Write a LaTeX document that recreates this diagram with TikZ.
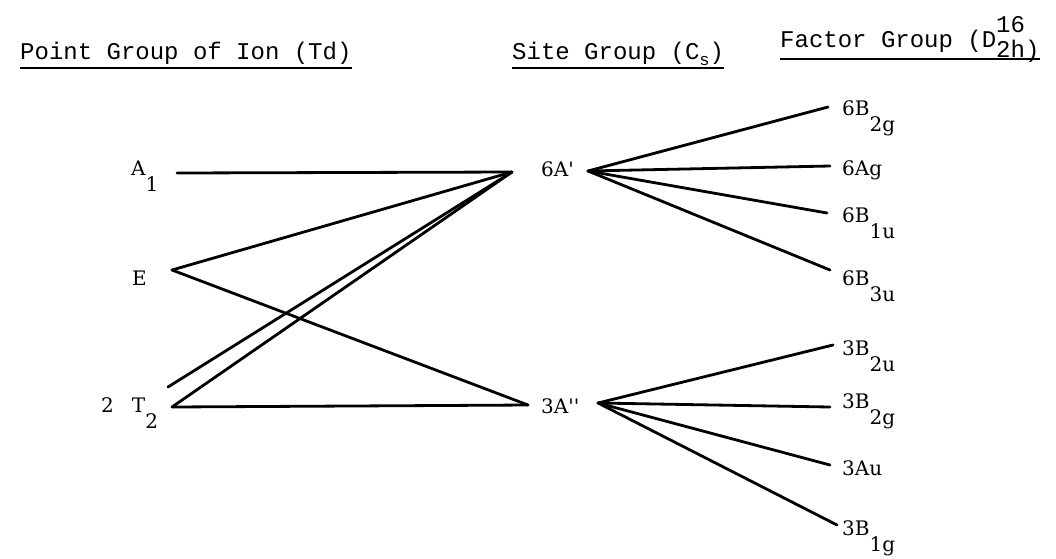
\documentclass[tikz,border=0pt]{standalone}
\usepackage{fontspec}
\setmainfont{DejaVu Serif}
\newfontfamily\typefont{Liberation Mono}
\usetikzlibrary{calc}

% lowered subscript, typewriter fashion
\newcommand{\lo}[1]{\raisebox{-16pt}{#1}}

\begin{document}
\begin{tikzpicture}[x=1pt,y=-1pt,
  link/.style={line width=2.8pt,line cap=round},
  rule/.style={line width=1.6pt},
  lbl/.style={anchor=base west,inner sep=0pt,font=\fontsize{20}{24}\selectfont},
  head/.style={anchor=base west,inner sep=0pt,font=\typefont\fontsize{24}{28}\selectfont}]

\useasboundingbox (0,0) rectangle (1056,558);

% Headings with their rules
\node[head] (hpoint) at (20,59) {Point Group of Ion (Td)};
\node[head] (hsite) at (512,59) {Site Group (C\raisebox{-6pt}{\fontsize{17}{18}\selectfont s})};
\node[head] (hfactor) at (780,47) {Factor Group (D\rlap{\raisebox{15pt}{16}}\raisebox{-10pt}{2h)}};

\draw[rule] ($(hpoint.base west)+(0,9)$) -- ($(hpoint.base east)+(0,9)$);
\draw[rule] ($(hsite.base west)+(0,9)$) -- ($(hsite.base east)+(0,9)$);
\draw[rule] ($(hfactor.base west)+(0,12)$) -- ($(hfactor.base east)+(0,12)$);

% Point group of the ion
\node[lbl] (A1) at (131,175) {A\lo{1}};
\node[lbl] (E) at (132,285) {E};
\node[lbl] (T2) at (101,412) {2\hspace{18pt}T\lo{2}};

\coordinate (a1) at (177,173);
\coordinate (e) at (172,270);
\coordinate (t2) at (172,407);
\coordinate (t2b) at (168,387);

% Site group
\node[lbl] (sA) at (541,176) {6A\textquotesingle};
\node[lbl] (sAA) at (541,413) {3A\textquotesingle\textquotesingle};

\coordinate (sAin) at (512,172);
\coordinate (sAAin) at (528,405);
\coordinate (sAout) at (588,171);
\coordinate (sAAout) at (598,403);

% Factor group
\node[lbl] (fBtwog) at (842,115) {6B\lo{2g}};
\node[lbl] (fAg) at (842,175) {6Ag};
\node[lbl] (fBoneu) at (842,222) {6B\lo{1u}};
\node[lbl] (fBthreeu) at (842,285) {6B\lo{3u}};
\node[lbl] (gBtwou) at (842,355) {3B\lo{2u}};
\node[lbl] (gBtwog) at (842,408) {3B\lo{2g}};
\node[lbl] (gAu) at (842,475) {3Au};
\node[lbl] (gBoneg) at (842,535) {3B\lo{1g}};

\coordinate (btwog) at (828,107);
\coordinate (ag) at (830,166);
\coordinate (boneu) at (827,213);
\coordinate (bthreeu) at (830,270);
\coordinate (ctwou) at (833,345);
\coordinate (ctwog) at (830,407);
\coordinate (au) at (830,465);
\coordinate (coneg) at (837,525);

% Correlation lines, ion to site
\draw[link] (a1) -- (sAin);
\draw[link] (e) -- (sAin);
\draw[link] (e) -- (sAAin);
\draw[link] (t2b) -- (sAin);
\draw[link] (t2) -- (sAin);
\draw[link] (t2) -- (sAAin);

% Correlation lines, site to factor
\draw[link] (sAout) -- (btwog);
\draw[link] (sAout) -- (ag);
\draw[link] (sAout) -- (boneu);
\draw[link] (sAout) -- (bthreeu);
\draw[link] (sAAout) -- (ctwou);
\draw[link] (sAAout) -- (ctwog);
\draw[link] (sAAout) -- (au);
\draw[link] (sAAout) -- (coneg);

\end{tikzpicture}
\end{document}
